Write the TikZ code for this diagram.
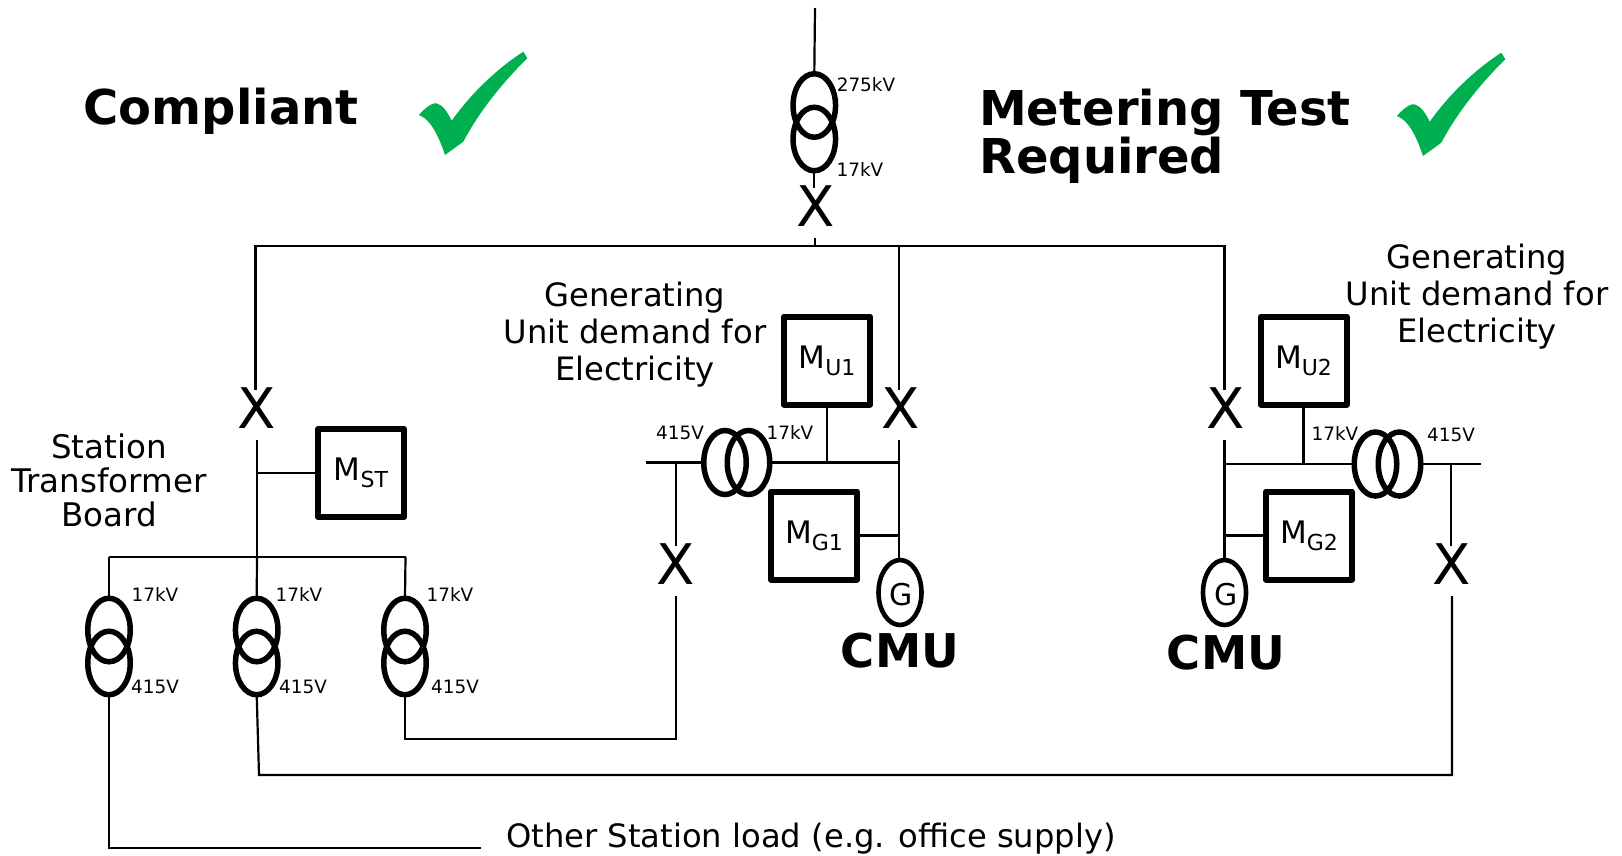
\documentclass[tikz,border=0pt]{standalone}
\usepackage{fontspec}
\setmainfont{DejaVu Sans}
\usetikzlibrary{shapes.geometric}
\definecolor{tickgreen}{HTML}{00B050}
\newcommand{\meter}[2]{\fontsize{31}{32}\selectfont M\raisebox{-7pt}{\fontsize{22}{22}\selectfont #1#2}}
\tikzset{
  wire/.style={line width=2.2pt,line join=miter},
  coil/.style={draw,ellipse,line width=5.5pt,inner sep=0pt,outer sep=0pt},
  vcoil/.style={coil,minimum width=42.5pt,minimum height=63.5pt},
  hcoil/.style={coil,minimum width=42.5pt,minimum height=64pt},
  gen/.style={draw,ellipse,line width=4.6pt,inner sep=0pt,outer sep=0pt,minimum width=43pt,minimum height=65pt},
  meterbox/.style={draw,line width=6pt,line join=round,inner sep=0pt,outer sep=3pt,minimum width=86pt,minimum height=88pt},
  breaker/.style={inner sep=0pt,outer sep=0pt,anchor=base,text height=38pt,text depth=12pt,font=\fontsize{56}{56}\selectfont},
  volt/.style={inner sep=0pt,font=\fontsize{18.4}{20}\selectfont},
  body/.style={inner sep=0pt,align=center,font=\fontsize{32.2}{37}\selectfont},
  head/.style={inner sep=0pt,align=left,font=\fontsize{48}{48}\selectfont\bfseries},
  cmu/.style={inner sep=0pt,font=\fontsize{46.5}{48}\selectfont\bfseries},
  greentick/.pic={
    \fill[tickgreen] (419,115) .. controls (424,109) and (432,102) .. (437,103.5)
      .. controls (443,105) and (448,113) .. (451.7,120.7)
      .. controls (470,95) and (495,70) .. (523.3,51.7) -- (527.3,58.3)
      .. controls (505,80) and (480,110) .. (463.3,141.7) -- (445,155)
      .. controls (440,140) and (432,120) .. (419,115) -- cycle;
  }
}
\begin{document}
\begin{tikzpicture}[x=1pt,y=-1pt]
\useasboundingbox (0,0) rectangle (1622,855);
% coordinates
\coordinate (feed) at (815,8);
\coordinate (busTap) at (815,246);
\coordinate (busL) at (255.5,246);
\coordinate (busA) at (898.7,246);
\coordinate (busR) at (1224.5,246);
\coordinate (brdL) at (109,557);
\coordinate (brdM) at (257,557);
\coordinate (brdR) at (405.5,557);
\coordinate (u1w) at (646,462.5);
\coordinate (u1a) at (676,462.5);
\coordinate (u1m) at (827,462.5);
\coordinate (u1j) at (898.7,462.5);
\coordinate (u2e) at (1481,464);
\coordinate (u2a) at (1450.7,464);
\coordinate (u2m) at (1303.5,464);
\coordinate (u2j) at (1224.5,464);
\coordinate (mstj) at (257,473);
\coordinate (loadEnd) at (481,848);
\coordinate (cL) at (109,848);
\coordinate (cM) at (259,775);
\coordinate (cR) at (405,739);
% main transformer
\node[vcoil] (T0a) at (814.3,105.5) {};
\node[vcoil] (T0b) at (814.3,139) {};
\node[breaker] (X0) at (815.7,226) {X};
% board transformers
\node[vcoil] (TLa) at (109,630) {};
\node[vcoil] (TLb) at (109,663) {};
\node[vcoil] (TMa) at (256.7,630) {};
\node[vcoil] (TMb) at (256.7,663) {};
\node[vcoil] (TRa) at (405,630) {};
\node[vcoil] (TRb) at (405,663) {};
% unit transformers
\node[hcoil] (U1a) at (725,462.5) {};
\node[hcoil] (U1b) at (748.5,462.5) {};
\node[hcoil] (U2a) at (1375.5,464) {};
\node[hcoil] (U2b) at (1399.5,464) {};
% breakers
\node[breaker] (XL) at (257,428) {X};
\node[breaker] (XA) at (901,428) {X};
\node[breaker] (XB) at (1226,428) {X};
\node[breaker] (XC) at (676,584) {X};
\node[breaker] (XD) at (1452,584) {X};
% meters
\node[meterbox] (MST) at (361,473) {\meter{S}{T}};
\node[meterbox] (MU1) at (827,360.5) {\meter{U}{1}};
\node[meterbox] (MG1) at (814,535.5) {\meter{G}{1}};
\node[meterbox] (MU2) at (1303.5,360.5) {\meter{U}{2}};
\node[meterbox] (MG2) at (1309,535.5) {\meter{G}{2}};
% generators
\node[gen] (G1) at (900,592.5) {};
\node[gen] (G2) at (1224.5,592.5) {};
\node[inner sep=0pt,font=\fontsize{30}{30}\selectfont] (G1t) at (900.7,595) {G};
\node[inner sep=0pt,font=\fontsize{30}{30}\selectfont] (G2t) at (1226,595) {G};
% wires
\draw[wire] (feed) -- (T0a.north);
\draw[wire] (T0b.south) -- (T0b.south |- X0.north);
\draw[wire] (busTap |- X0.south) -- (busTap);
\draw[wire] (XL.north -| busL) -- (busL) -- (busR) -- (XB.north -| busR);
\draw[wire] (busA) -- (XA.north -| busA);
\draw[wire] (XL.south) -- (brdM);
\draw[wire] (mstj) -- (MST.west);
\draw[wire] (brdL) -- (brdR);
\draw[wire] (brdL) -- (TLa.north);
\draw[wire] (brdM) -- (TMa.north);
\draw[wire] (brdR) -- (TRa.north);
\draw[wire] (TLb.south) -- (cL) -- (loadEnd);
\draw[wire] (TMb.south) -- (cM) -- (cM -| XD) -- (XD.south);
\draw[wire] (TRb.south) -- (cR) -- (cR -| XC) -- (XC.south);
\draw[wire] (u1w) -- (U1a.west);
\draw[wire] (U1b.east) -- (u1j);
\draw[wire] (u1a) -- (XC.north -| u1a);
\draw[wire] (MU1.south) -- (u1m);
\draw[wire] (XA.south -| u1j) -- (G1.north -| u1j);
\draw[wire] (MG1.east) -- (MG1.east -| u1j);
\draw[wire] (u2e) -- (U2b.east);
\draw[wire] (U2a.west) -- (u2j);
\draw[wire] (u2a) -- (XD.north -| u2a);
\draw[wire] (MU2.south) -- (u2m);
\draw[wire] (XB.south -| u2j) -- (G2.north);
\draw[wire] (MG2.west) -- (MG2.west -| u2j);
% voltage labels
\node[volt] (v1) at (866,85) {275kV};
\node[volt] (v2) at (860,170) {17kV};
\node[volt] (v3) at (155,594) {17kV};
\node[volt] (v4) at (155,687) {415V};
\node[volt] (v5) at (299,594) {17kV};
\node[volt] (v6) at (303,687) {415V};
\node[volt] (v7) at (450,594) {17kV};
\node[volt] (v8) at (455,687) {415V};
\node[volt] (v9) at (680,433) {415V};
\node[volt] (v10) at (790,433) {17kV};
\node[volt] (v11) at (1335,434) {17kV};
\node[volt] (v12) at (1451,435) {415V};
% text
\node[head,anchor=west] (hC) at (83.5,111) {Compliant};
\node[head,anchor=north west] (hM) at (979,89) {Metering Test\\Required};
\node[cmu] (cmuA) at (900,651) {CMU};
\node[cmu] (cmuB) at (1226,653) {CMU};
\node[body,font=\fontsize{32.5}{34}\selectfont] (tS) at (109,480) {Station\\Transformer\\Board};
\node[body] (tU1) at (635,335) {Generating\\Unit demand for\\Electricity};
\node[body] (tU2) at (1477,297) {Generating\\Unit demand for\\Electricity};
\node[body,anchor=west] (tO) at (506,839) {Other Station load (e.g. office supply)};
% ticks
\pic at (0,0) {greentick};
\pic at (978,1) {greentick};
\end{tikzpicture}
\end{document}
